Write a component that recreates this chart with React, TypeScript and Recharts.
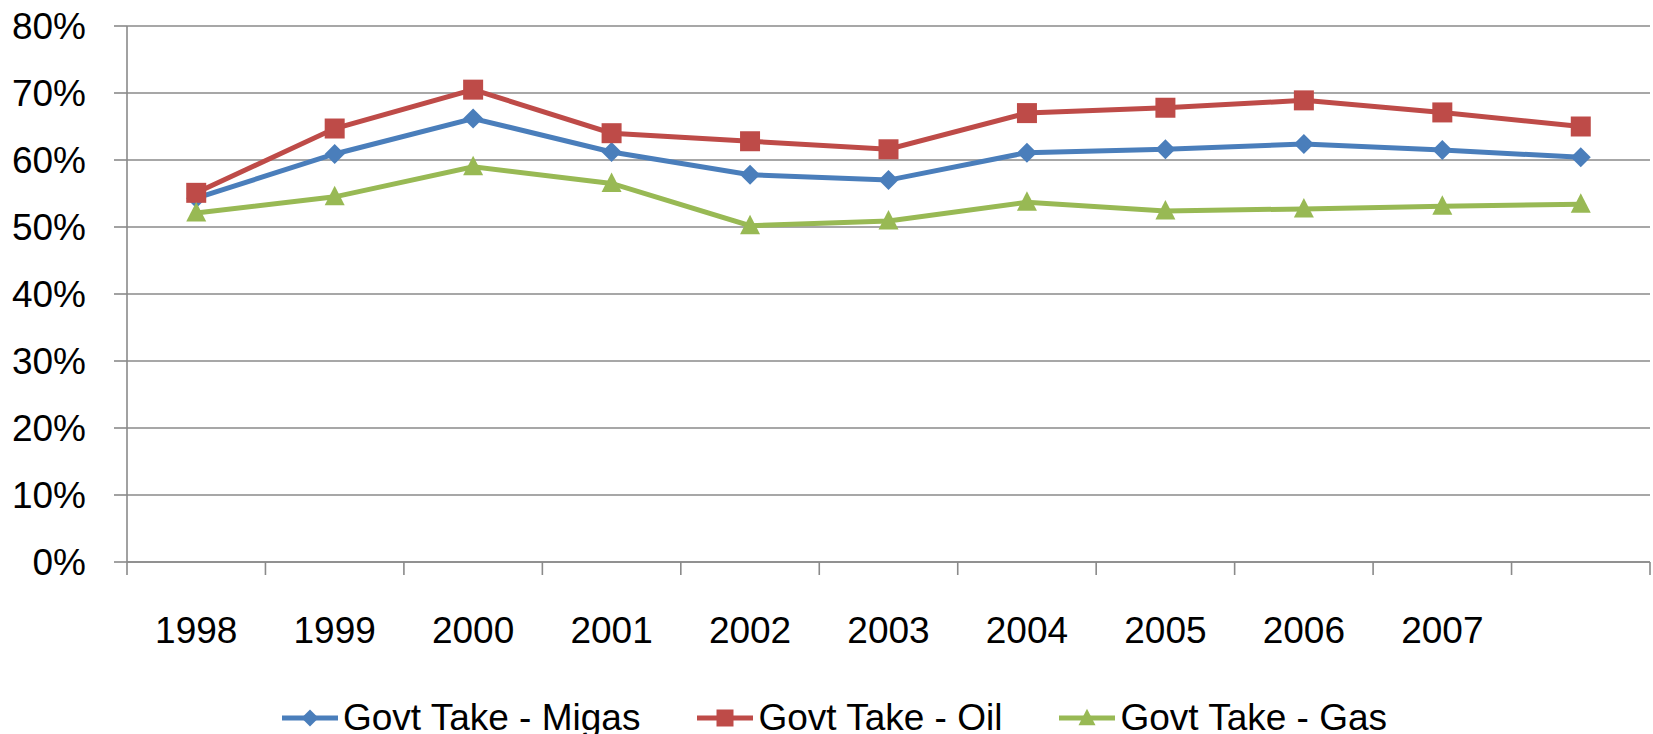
import React from "react";
import { LineChart, Line, XAxis, YAxis, CartesianGrid, Legend } from "recharts";

const categories = ["1998", "1999", "2000", "2001", "2002", "2003", "2004", "2005", "2006", "2007", ""];
const migas = [54.3, 60.9, 66.2, 61.2, 57.8, 57.0, 61.1, 61.6, 62.4, 61.5, 60.4];
const oil = [55.1, 64.7, 70.5, 64.0, 62.8, 61.6, 67.0, 67.8, 68.9, 67.1, 65.0];
const gas = [52.1, 54.5, 59.0, 56.5, 50.2, 50.9, 53.7, 52.4, 52.7, 53.1, 53.4];
const yTicks = [0, 10, 20, 30, 40, 50, 60, 70, 80];
const seriesNames = ["Govt Take - Migas", "Govt Take - Oil", "Govt Take - Gas"];

const BLUE = "#4A7EBB";
const RED = "#BE4B48";
const GREEN = "#98B954";
const GRID = "#8a8a8a";
const FONT = "'Liberation Sans', Arial, sans-serif";
const FS = 37;

// each category occupies one unit band; the point sits at the band centre
const data = categories.map((c, i) => ({ pos: i + 0.5, year: c, migas: migas[i], oil: oil[i], gas: gas[i] }));
const boundaryTicks = [...categories.map((_, i) => i), categories.length];
const centerTicks = categories.map((_, i) => i + 0.5);

type Shape = "diamond" | "square" | "triangle";

function markerPath(shape: Shape, cx: number, cy: number, s: number): string {
  const r = s / 2;
  if (shape === "diamond") return `M${cx},${cy - r}L${cx + r},${cy}L${cx},${cy + r}L${cx - r},${cy}Z`;
  if (shape === "square") return `M${cx - r},${cy - r}H${cx + r}V${cy + r}H${cx - r}Z`;
  return `M${cx},${cy - r * 1.1}L${cx + r},${cy + r * 0.85}L${cx - r},${cy + r * 0.85}Z`;
}

const makeDot = (shape: Shape, color: string, size: number) => (props: any) => {
  const { cx, cy, index } = props;
  if (cx == null || cy == null) return <g key={`e${shape}${index}`} />;
  return <path key={`${shape}${index}`} d={markerPath(shape, cx, cy, size)} fill={color} />;
};

const series: { key: string; name: string; color: string; shape: Shape }[] = [
  { key: "migas", name: seriesNames[0], color: BLUE, shape: "diamond" },
  { key: "oil", name: seriesNames[1], color: RED, shape: "square" },
  { key: "gas", name: seriesNames[2], color: GREEN, shape: "triangle" },
];

const LegendContent = () => (
  <div
    style={{
      display: "flex",
      justifyContent: "center",
      alignItems: "center",
      fontFamily: FONT,
      fontSize: FS,
      lineHeight: `${FS}px`,
      color: "#000",
      paddingLeft: 16,
    }}
  >
    {series.map((s, i) => (
      <div key={s.key} style={{ display: "flex", alignItems: "center", marginLeft: i === 0 ? 0 : 57 }}>
        <svg width={56} height={24} style={{ marginRight: 5 }}>
          <line x1={0} y1={12} x2={56} y2={12} stroke={s.color} strokeWidth={5} />
          <path d={markerPath(s.shape, 28, 12, 17)} fill={s.color} />
        </svg>
        <span style={{ whiteSpace: "nowrap" }}>{s.name}</span>
      </div>
    ))}
  </div>
);

export default function App() {
  return (
    <div style={{ position: "absolute", left: 0, top: 0, width: 1653, height: 734, background: "#fff" }}>
      <LineChart width={1653} height={734} data={data} margin={{ top: 26, right: 3, left: 0, bottom: 0 }}>
        <CartesianGrid xAxisId="b_labels" vertical={false} stroke={GRID} strokeWidth={1.6} />
        <XAxis
          xAxisId="b_labels"
          type="number"
          dataKey="pos"
          domain={[0, categories.length]}
          ticks={centerTicks}
          allowDataOverflow
          tickFormatter={(v: number) => categories[Math.floor(v)] ?? ""}
          axisLine={false}
          tickLine={false}
          tickSize={0}
          tickMargin={42}
          height={159}
          interval={0}
          tick={{ fontFamily: FONT, fontSize: FS, fill: "#000" }}
        />
        <XAxis
          xAxisId="a_ticks"
          type="number"
          dataKey="pos"
          domain={[0, categories.length]}
          ticks={boundaryTicks}
          allowDataOverflow
          tickFormatter={() => ""}
          tickSize={13}
          height={13}
          stroke={GRID}
          strokeWidth={1.6}
          interval={0}
        />
        <YAxis
          domain={[0, 80]}
          ticks={yTicks}
          tickFormatter={(v: number) => `${v}%`}
          width={127}
          tickSize={13}
          tickMargin={28}
          stroke={GRID}
          strokeWidth={1.6}
          interval={0}
          tick={{ fontFamily: FONT, fontSize: FS, fill: "#000" }}
        />
        {series.map((s) => (
          <Line
            key={s.key}
            xAxisId="b_labels"
            type="linear"
            dataKey={s.key}
            name={s.name}
            stroke={s.color}
            strokeWidth={5}
            dot={makeDot(s.shape, s.color, 20)}
            activeDot={false}
            isAnimationActive={false}
          />
        ))}
        <Legend
          verticalAlign="middle"
          align="center"
          layout="horizontal"
          wrapperStyle={{ top: 699, left: 0, width: 1653 }}
          content={() => <LegendContent />}
        />
      </LineChart>
    </div>
  );
}
